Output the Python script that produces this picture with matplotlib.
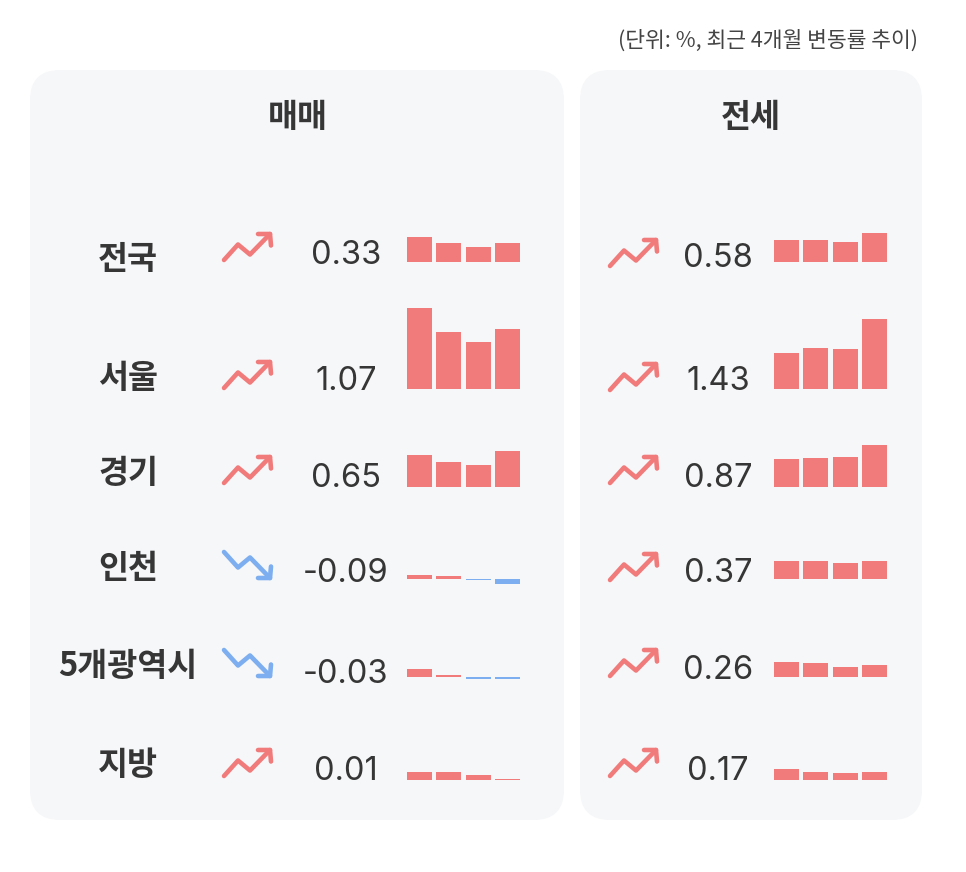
import matplotlib
matplotlib.use('Agg')
import matplotlib.pyplot as plt
from matplotlib.patches import FancyBboxPatch

plt.rcParams['font.family'] = ['Noto Sans CJK KR', 'DejaVu Sans']

# data (%, last 4 months)
regions = ['전국', '서울', '경기', '인천', '5개광역시', '지방']
sale_trend = [
    [0.44, 0.33, 0.26, 0.33],
    [1.45, 1.01, 0.83, 1.07],
    [0.57, 0.45, 0.40, 0.65],
    [0.07, 0.05, -0.03, -0.09],
    [0.14, 0.05, -0.03, -0.03],
    [0.14, 0.14, 0.09, 0.01],
]
jeonse_trend = [
    [0.44, 0.44, 0.40, 0.58],
    [0.73, 0.84, 0.82, 1.43],
    [0.57, 0.59, 0.61, 0.87],
    [0.36, 0.36, 0.32, 0.37],
    [0.32, 0.30, 0.22, 0.26],
    [0.22, 0.16, 0.14, 0.17],
]
panel_titles = ['매매', '전세']
unit_note = '(단위: %, 최근 4개월 변동률 추이)'

RED = '#F17B7B'
BLUE = '#7DAEEF'
TXT = '#363636'
PANEL = '#F6F7F9'

W, H = 966, 872
fig = plt.figure(figsize=(W / 100, H / 100), dpi=100)
fig.patch.set_facecolor('white')
ax = fig.add_axes([0, 0, 1, 1])
ax.set_xlim(0, W)
ax.set_ylim(H, 0)
ax.axis('off')

# panels
for x0, x1 in [(30, 564), (580, 922)]:
    ax.add_patch(FancyBboxPatch((x0, 70), x1 - x0, 750,
                                boxstyle='round,pad=0,rounding_size=30',
                                fc=PANEL, ec='none'))

ax.text(918, 41, unit_note, ha='right', va='center', fontsize=15.5,
        fontweight='medium', color='#444444')
ax.text(298, 117, panel_titles[0], ha='center', va='center', fontsize=23.5,
        fontweight='bold', color=TXT)
ax.text(751, 117, panel_titles[1], ha='center', va='center', fontsize=23.5,
        fontweight='bold', color=TXT)

# layout of rows (pixels)
label_y = [259, 378, 473, 568, 666, 765]
base_y = [261.7, 388.7, 487.3, 578.7, 677.3, 780]
num_y = [[263.5, 389.5, 486.5, 581.5, 683, 779.5],
         [266.5, 389.5, 486.5, 581.5, 678.5, 779.5]]
arrow_y = [[247, 375, 470, 565, 663, 763],
           [253, 377, 470, 567, 663, 763]]

# arrow icon template, centered, y pointing down
icon_line = [(-23, 13), (-9, -2.5), (3, 7.5), (23, -13)]
icon_head = [(11, -13), (23, -13), (24, -1.5)]


def draw_arrow(cx, cy, up, color):
    s = 1 if up else -1
    for pts in (icon_line, icon_head):
        xs = [cx + p[0] for p in pts]
        ys = [cy + s * p[1] for p in pts]
        ax.plot(xs, ys, color=color, lw=3.3, solid_capstyle='round',
                solid_joinstyle='round')


def draw_bars(left, base, scale, vals):
    lo, hi = -0.3, 1.6
    bottom = base + (-lo) * scale
    height = (hi - lo) * scale
    bax = fig.add_axes([left / W, 1 - bottom / H, 117 / W, height / H])
    bax.set_xlim(-0.5, 3.5)
    bax.set_ylim(lo, hi)
    bax.axis('off')
    cols = [RED if v >= 0 else BLUE for v in vals]
    bax.bar(range(4), vals, width=0.85, color=cols)


panels = [(sale_trend, 128, 247, 346, 405, 56),
          (jeonse_trend, None, 633, 718, 772, 49)]

for k, (trend, lab_x, arr_x, num_x, bar_x, scale) in enumerate(panels):
    for i, vals in enumerate(trend):
        last = vals[-1]
        up = last >= 0
        col = RED if up else BLUE
        if lab_x is not None:
            ax.text(lab_x, label_y[i], regions[i], ha='center', va='center',
                    fontsize=23.5, fontweight='bold', color=TXT)
        draw_arrow(arr_x, arrow_y[k][i], up, col)
        ax.text(num_x, num_y[k][i], f'{last:.2f}', ha='center', va='baseline',
                fontsize=23.5, family=['Inter', 'DejaVu Sans'], color=TXT)
        draw_bars(bar_x, base_y[i], scale, vals)

fig.savefig('out.png', dpi=100, facecolor='white')
